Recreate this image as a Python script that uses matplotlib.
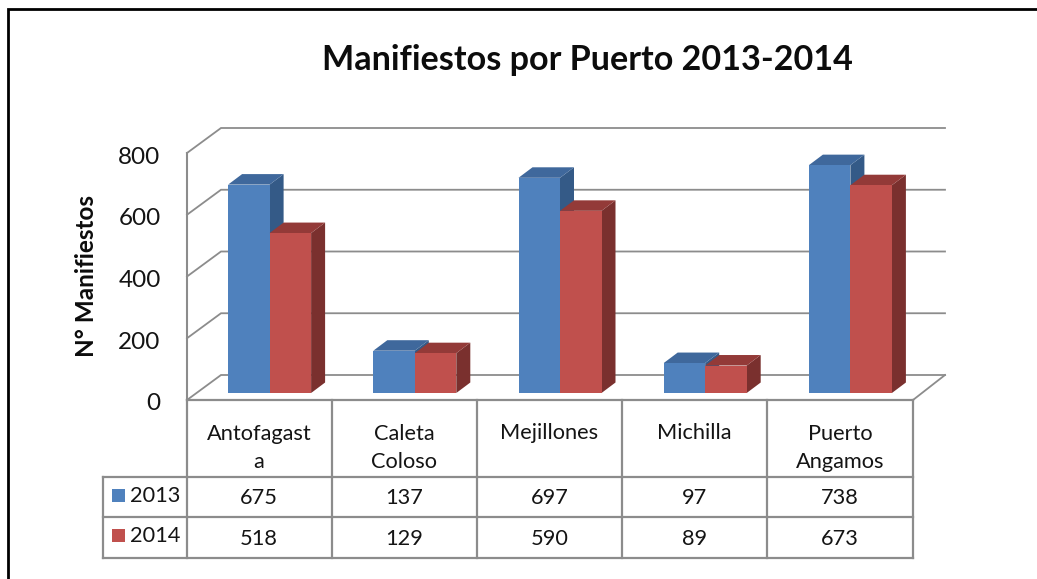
import matplotlib
matplotlib.use("Agg")
import matplotlib.pyplot as plt
from matplotlib.transforms import Affine2D

# --- data ---
title = "Manifiestos por Puerto 2013-2014"
ylabel = "N° Manifiestos"
categories = ["Antofagast\na", "Caleta\nColoso", "Mejillones", "Michilla", "Puerto\nAngamos"]
series_names = ["2013", "2014"]
values_2013 = [675, 137, 697, 97, 738]
values_2014 = [518, 129, 590, 89, 673]
yticks = [0, 200, 400, 600, 800]

# --- style ---
W, H = 1037, 579
plt.rcParams["font.family"] = ["Lato", "DejaVu Sans"]
fig = plt.figure(figsize=(W / 100, H / 100), dpi=100, facecolor="white")

L, R, B, T = 187, 913, 400, 153
ax = fig.add_axes([L / W, 1 - B / H, (R - L) / W, (B - T) / H])
ax.set_xlim(-0.5, 4.5)
ax.set_ylim(0, 800)
ax.patch.set_alpha(0)
for s in ax.spines.values():
    s.set_visible(False)

ux = 5 / (R - L)       # categories per pixel
uy = 800 / (B - T)     # values per pixel
GRID = "#8C8C8C"
INK = "#141414"

# walls: gridlines
wall_dx, wall_dy = 34 * ux, 25 * uy
for t in yticks:
    ax.plot([-0.5, -0.5 + wall_dx, 4.5 + 32 * ux], [t, t + wall_dy, t + wall_dy],
            color=GRID, lw=1.3, clip_on=False, zorder=1, solid_joinstyle="miter")
ax.plot([4.5, 4.5 + 32 * ux], [0, wall_dy], color=GRID, lw=1.3, clip_on=False, zorder=1)
ax.plot([-0.5, -0.5], [0, 800], color=GRID, lw=1.5, clip_on=False, zorder=1)

# bars with pseudo-3D faces
bw = 41.5 * ux
off_y = 7 * uy
bar_dx, bar_dy = 14 * ux, 10.5 * uy
faces = [("#4F81BD", "#3F689C", "#345A87"), ("#C0504D", "#933A38", "#7A302E")]
for j, vals in enumerate([values_2013, values_2014]):
    front, top, side = faces[j]
    for i, v in enumerate(vals):
        x0 = i + (j - 1) * bw + 10 * ux
        x1 = x0 + bw
        z = 3 + j + i * 0.01
        ax.fill([x1, x1 + bar_dx, x1 + bar_dx, x1],
                [off_y, off_y + bar_dy, off_y + v + bar_dy, off_y + v],
                color=side, lw=0, clip_on=False, zorder=z)
        ax.fill([x0, x1, x1 + bar_dx, x0 + bar_dx],
                [off_y + v, off_y + v, off_y + v + bar_dy, off_y + v + bar_dy],
                color=top, lw=0, clip_on=False, zorder=z)
        ax.bar(x0, v, bw, bottom=off_y, align="edge", color=front, lw=0,
               clip_on=False, zorder=z + 0.001)

ax.set_yticks(yticks)
ax.set_yticklabels([str(t) for t in yticks], fontsize=17.5, color=INK)
ax.set_xticks([])
ax.tick_params(axis="y", length=0, pad=19)
for lab in ax.get_yticklabels():
    lab.set_transform(lab.get_transform() + Affine2D().translate(0, -2))

# overlay in pixel coordinates for the frame and data table
ov = fig.add_axes([0, 0, 1, 1], zorder=5)
ov.set_xlim(0, W)
ov.set_ylim(H, 0)
ov.axis("off")
ov.patch.set_alpha(0)

ov.plot([8, 8, W], [H, 9, 9], color="black", lw=2.0, solid_joinstyle="miter")
ov.text(587.5, 59.5, title, ha="center", va="center", fontsize=24.6, fontweight="bold", color="#0c0c0c")
ov.text(87, 276, ylabel, rotation=90, ha="center", va="center", fontsize=17.5,
        fontweight="bold", color="#0c0c0c")

col_w = (R - L) / len(categories)
y_head, y_r1, y_r2, y_r3 = 400, 477, 517, 558
x_leg = 103
kw = dict(color=GRID, lw=1.6, solid_capstyle="projecting")
ov.plot([L, R], [y_head, y_head], **kw)
for i in range(len(categories) + 1):
    ov.plot([L + i * col_w - 0.5] * 2, [y_head, y_r3], **kw)
for y in (y_r1, y_r2, y_r3):
    ov.plot([x_leg, R], [y, y], **kw)
ov.plot([x_leg, x_leg], [y_r1, y_r3], **kw)

tkw = dict(ha="center", va="center", fontsize=15.7, color=INK)
for i, c in enumerate(categories):
    cx = L + (i + 0.5) * col_w - 0.5
    ov.text(cx, 448 if "\n" in c else 433, c, linespacing=1.45, **tkw)
    ov.text(cx, 498, str(values_2013[i]), **tkw)
    ov.text(cx, 539, str(values_2014[i]), **tkw)

for y, name, col in zip((495, 535), series_names, ("#4F81BD", "#C0504D")):
    ov.add_patch(plt.Rectangle((112, y - 6.5), 13, 13, color=col, lw=0))
    ov.text(130, y + 1, name, ha="left", va="center", fontsize=15.7, color=INK)

fig.savefig("out.png", dpi=100)
